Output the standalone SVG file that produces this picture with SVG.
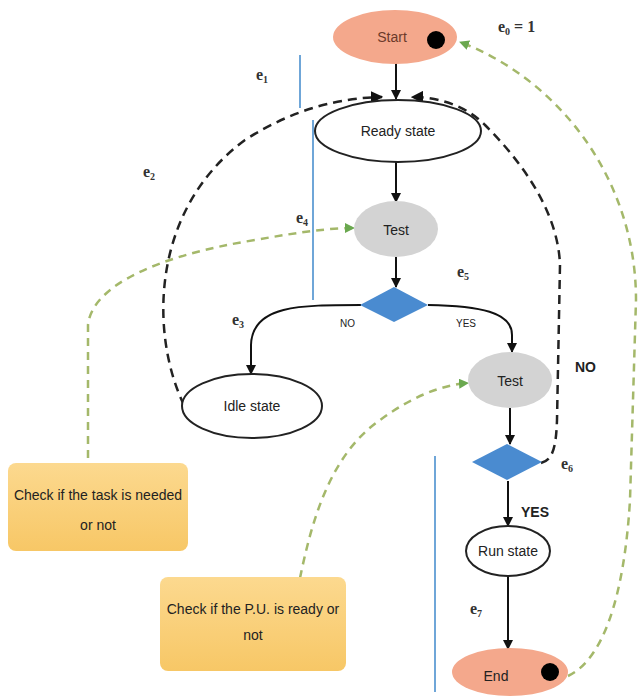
<svg xmlns="http://www.w3.org/2000/svg" width="644" height="697" viewBox="0 0 644 697">
<defs>
<marker id="ah" viewBox="0 0 10 10" refX="9" refY="5" markerWidth="5" markerHeight="5" orient="auto"><path d="M0,0 L10,5 L0,10 z" fill="#111"/></marker>
<marker id="ag" viewBox="0 0 10 10" refX="9" refY="5" markerWidth="4" markerHeight="4" orient="auto"><path d="M0,0 L10,5 L0,10 z" fill="#6aa84f"/></marker>
<linearGradient id="note" x1="0" y1="0" x2="0" y2="1"><stop offset="0" stop-color="#fcd98f"/><stop offset="1" stop-color="#f7c766"/></linearGradient>
</defs>
<style>
text{font-family:"Liberation Sans",Arial,sans-serif;fill:#222;}
.lbl{font-size:14px;text-anchor:middle;}
.e{font-family:"Liberation Serif",serif;font-size:16px;font-weight:bold;fill:#333;}
.state{fill:#fff;stroke:#222;stroke-width:2;}
.term{fill:#f4a88c;}
.test{fill:#d3d3d3;}
.dia{fill:#4a8bd0;}
.solid{fill:none;stroke:#111;stroke-width:2;marker-end:url(#ah);}
.dash{fill:none;stroke:#222;stroke-width:2.5;stroke-dasharray:9,6;marker-end:url(#ah);}
.gdash{fill:none;stroke:#a4b86a;stroke-width:2.5;stroke-dasharray:8,6;marker-end:url(#ag);}
.blue{stroke:#6fa6d8;stroke-width:2;}
.note{fill:url(#note);}
</style>
<g id="connectors">
<path class="solid" d="M396,63 L396,99"/>
<path class="solid" d="M396,162 L396,202"/>
<path class="solid" d="M396,257 L396,287"/>
<path class="solid" d="M361,305 C300,305 252,305 251,345 L251,374"/>
<path class="solid" d="M428,305 C480,306 512,312 512,335 L512,352"/>
<path class="solid" d="M510,408 L510,444"/>
<path class="solid" d="M508,481 L508,526"/>
<path class="solid" d="M508,576 L508,649"/>
<path class="dash" d="M184,405 C150,335 150,210 245,140 C295,108 340,98 382,97"/>
<path class="dash" d="M541,463 C552,460 556,450 557,420 L560,265 C558,210 520,160 485,125 C462,102 432,97 412,97"/>
<path class="gdash" d="M88,472 L88,325 C92,285 160,255 255,240 C300,232 330,228 354,228"/>
<path class="gdash" d="M300,578 C312,520 330,455 380,420 C410,398 440,385 468,383"/>
<path class="gdash" d="M568,676 C602,660 624,600 630,500 L636,300 C636,180 560,80 460,42"/>
<line class="blue" x1="300" y1="55" x2="300" y2="108"/>
<line class="blue" x1="313" y1="120" x2="313" y2="300"/>
<line class="blue" x1="435" y1="456" x2="435" y2="692"/>
</g>
<g id="start"><ellipse class="term" cx="395" cy="37" rx="62" ry="27"/><text class="lbl" x="392" y="42" font-size="12" style="fill:#6b3a2a">Start</text><circle cx="436" cy="40" r="9" fill="#000"/></g>
<g id="ready"><ellipse class="state" cx="398" cy="131" rx="83" ry="31"/><text class="lbl" x="398" y="136">Ready state</text></g>
<g id="test1"><ellipse class="test" cx="396" cy="229" rx="42" ry="28"/><text class="lbl" x="396" y="235">Test</text></g>
<g id="decision1"><polygon class="dia" points="394,287 428,305 394,322 360,305"/></g>
<g id="idle"><ellipse class="state" cx="252" cy="406" rx="70" ry="32"/><text class="lbl" x="252" y="411">Idle state</text></g>
<g id="test2"><ellipse class="test" cx="510" cy="380" rx="42" ry="28"/><text class="lbl" x="510" y="386">Test</text></g>
<g id="decision2"><polygon class="dia" points="507,444 542,462 507,480 472,462"/></g>
<g id="run"><ellipse class="state" cx="508" cy="551" rx="42" ry="25"/><text class="lbl" x="508" y="556">Run state</text></g>
<g id="end"><ellipse class="term" cx="510" cy="672" rx="58" ry="24"/><text class="lbl" x="496" y="681" font-size="12">End</text><circle cx="550" cy="672" r="9" fill="#000"/></g>
<g id="note1"><rect class="note" x="8" y="463" width="180" height="88" rx="8"/><text class="lbl" x="98" y="500">Check if the task is needed</text><text class="lbl" x="98" y="530">or not</text></g>
<g id="note2"><rect class="note" x="160" y="577" width="186" height="94" rx="8"/><text class="lbl" x="253" y="614">Check if the P.U. is ready or</text><text class="lbl" x="253" y="640">not</text></g>
<g id="labels">
<text class="e" x="498" y="32">e<tspan font-size="10" dy="3">0</tspan><tspan dy="-3"> = 1</tspan></text>
<text class="e" x="256" y="80">e<tspan font-size="10" dy="3">1</tspan></text>
<text class="e" x="143" y="177">e<tspan font-size="10" dy="3">2</tspan></text>
<text class="e" x="296" y="223">e<tspan font-size="10" dy="3">4</tspan></text>
<text class="e" x="457" y="277">e<tspan font-size="10" dy="3">5</tspan></text>
<text class="e" x="232" y="325">e<tspan font-size="10" dy="3">3</tspan></text>
<text class="e" x="561" y="469">e<tspan font-size="10" dy="3">6</tspan></text>
<text class="e" x="470" y="614">e<tspan font-size="10" dy="3">7</tspan></text>
<text x="340" y="327" font-size="10">NO</text>
<text x="456" y="327" font-size="10">YES</text>
<text x="575" y="372" font-size="14" font-weight="bold">NO</text>
<text x="521" y="517" font-size="14" font-weight="bold">YES</text>
</g>
</svg>
